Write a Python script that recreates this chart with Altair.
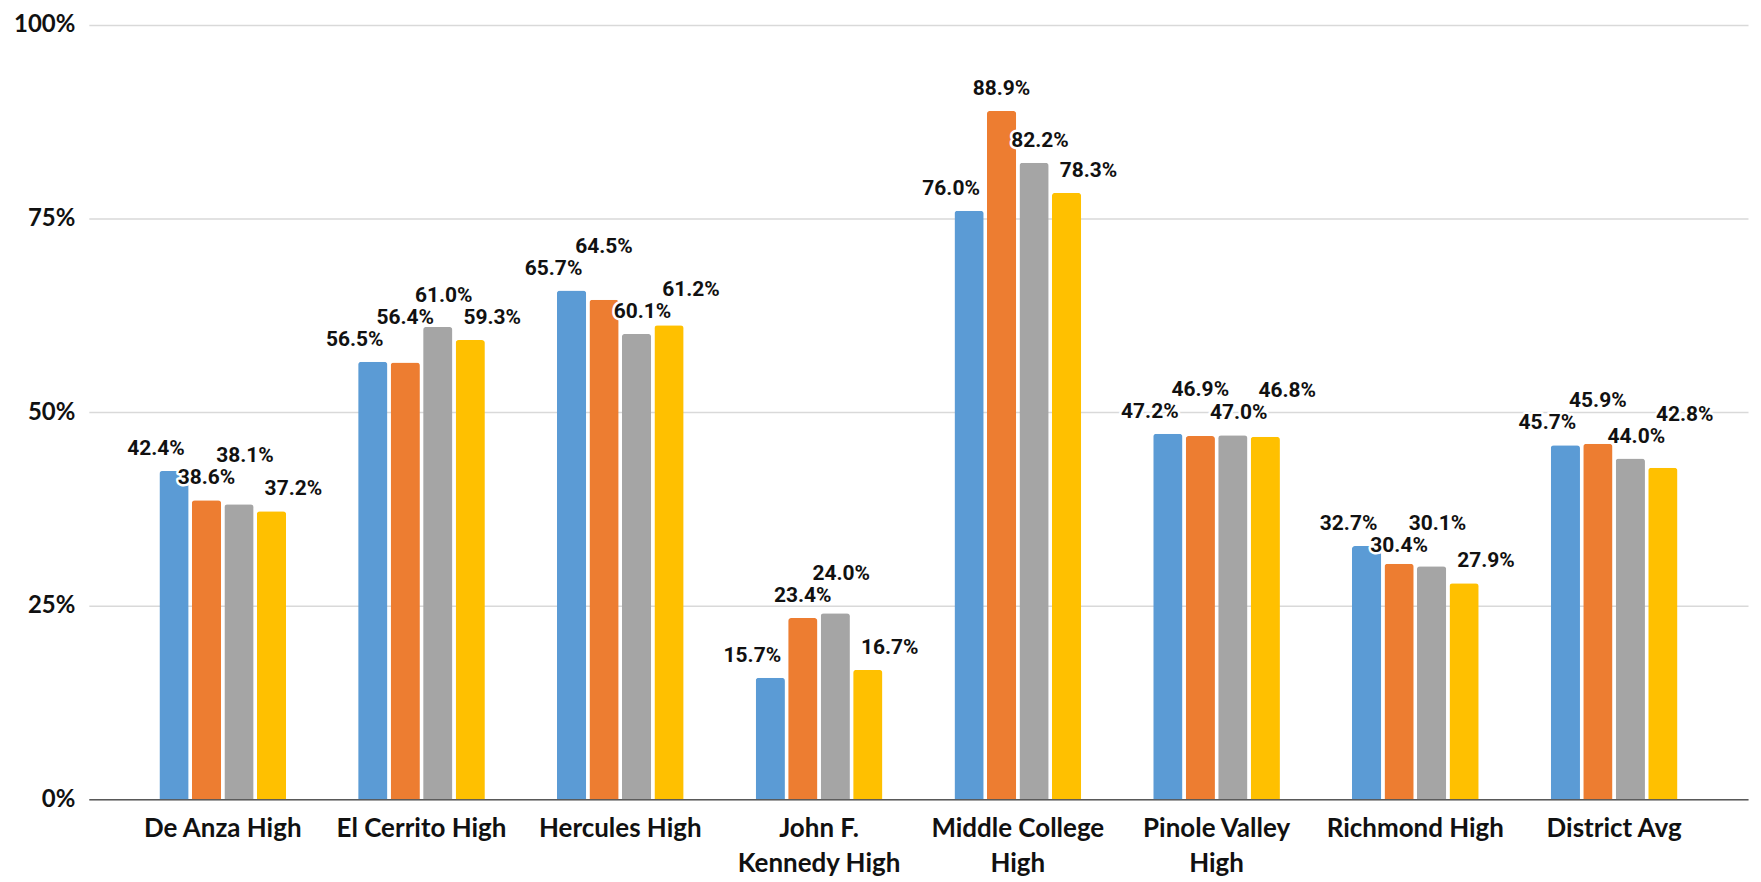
import altair as alt
import pandas as pd

# ---- data ----
categories = [
    "De Anza High",
    "El Cerrito High",
    "Hercules High",
    "John F.\nKennedy High",
    "Middle College\nHigh",
    "Pinole Valley\nHigh",
    "Richmond High",
    "District Avg",
]
series = ["Series 1", "Series 2", "Series 3", "Series 4"]
s1 = [42.4, 56.5, 65.7, 15.7, 76.0, 47.2, 32.7, 45.7]
s2 = [38.6, 56.4, 64.5, 23.4, 88.9, 46.9, 30.4, 45.9]
s3 = [38.1, 61.0, 60.1, 24.0, 82.2, 47.0, 30.1, 44.0]
s4 = [37.2, 59.3, 61.2, 16.7, 78.3, 46.8, 27.9, 42.8]
colors = ["#5B9BD5", "#ED7D31", "#A5A5A5", "#FFC000"]
y_ticks = [0, 25, 50, 75, 100]

# ---- layout ----
PLOT_W, PLOT_H = 1663, 776
PAD_INNER, PAD_OUTER = 0.3625, 0.355
OFF_PAD = 0.1
LABEL_DX = [-18, 0, 6, 22]
LBL_W, LBL_H = 62, 22
LBL_FONT = 21
PX = PLOT_H / 100.0

step = PLOT_W / (len(categories) - PAD_INNER + 2 * PAD_OUTER)
group_w = step * (1 - PAD_INNER)
off_step = group_w / (len(series) - OFF_PAD)
bar_w = off_step * (1 - OFF_PAD)
bar_rel = [-group_w / 2 + k * off_step + bar_w / 2 for k in range(len(series))]

values = [s1, s2, s3, s4]
rows = []
for g, cat in enumerate(categories):
    placed = []
    for i, name in enumerate(series):
        v = values[i][g]
        top = v * PX
        want = top + 22
        minimum = top + 11
        x = bar_rel[i] + LABEL_DX[i]
        cands = [want]
        for (px_, py_) in placed:
            cands += [py_ + LBL_H, py_ - LBL_H]
        valid = []
        for c in cands:
            if c < minimum:
                continue
            ok = all(abs(x - px_) >= LBL_W or abs(c - py_) >= LBL_H for (px_, py_) in placed)
            if ok:
                valid.append(c)
        ypos = min(valid, key=lambda c: abs(c - want)) if valid else want
        placed.append((x, ypos))
        rows.append({
            "school": cat,
            "series": name,
            "value": v,
            "label_y": ypos / PX,
            "label": f"{v:.1f}%",
        })

df = pd.DataFrame(rows)

x_enc = alt.X(
    "school:N",
    sort=categories,
    scale=alt.Scale(paddingInner=PAD_INNER, paddingOuter=PAD_OUTER),
    axis=alt.Axis(
        title=None,
        labelAngle=0,
        ticks=False,
        domainColor="#595959",
        domainWidth=1.5,
        labelFont="Lato",
        labelFontWeight="bold",
        labelFontSize=26,
        labelColor="#111111",
        labelPadding=16,
        labelLineHeight=35,
        labelExpr="split(datum.label, '\\n')",
        grid=False,
    ),
)
xoff_enc = alt.XOffset(
    "series:N",
    sort=series,
    scale=alt.Scale(domain=series, paddingInner=OFF_PAD, paddingOuter=0),
)
y_scale = alt.Scale(domain=[0, 100], nice=False)

bars = alt.Chart(df).mark_bar(
    cornerRadiusTopLeft=3, cornerRadiusTopRight=3
).encode(
    x=x_enc,
    xOffset=xoff_enc,
    y=alt.Y(
        "value:Q",
        scale=y_scale,
        axis=alt.Axis(
            title=None,
            values=y_ticks,
            labelExpr="datum.value + '%'",
            domain=False,
            ticks=False,
            grid=True,
            gridColor="#D9D9D9",
            gridWidth=1.5,
            labelFont="Lato",
            labelFontWeight="bold",
            labelFontSize=24,
            labelColor="#111111",
            labelPadding=14,
        ),
    ),
    color=alt.Color(
        "series:N",
        sort=series,
        scale=alt.Scale(domain=series, range=colors),
        legend=None,
    ),
)

layers = [bars]
for i, name in enumerate(series):
    base = alt.Chart(df).transform_filter(alt.datum.series == name)
    enc = dict(
        x=x_enc,
        xOffset=xoff_enc,
        y=alt.Y("label_y:Q", scale=y_scale),
        text="label:N",
    )
    halo = base.mark_text(
        font="Roboto", fontWeight="bold", fontSize=LBL_FONT, baseline="middle",
        align="center", dx=LABEL_DX[i], stroke="white", strokeWidth=5,
        strokeJoin="round", fill="white",
    ).encode(**enc)
    txt = base.mark_text(
        font="Roboto", fontWeight="bold", fontSize=LBL_FONT, baseline="middle",
        align="center", dx=LABEL_DX[i], color="#111111",
    ).encode(**enc)
    layers += [halo, txt]

chart = alt.layer(*layers).properties(
    width=PLOT_W,
    height=PLOT_H,
    autosize=alt.AutoSizeParams(type="none"),
    padding={"left": 81, "top": 16, "right": 5, "bottom": 80},
    background="white",
).configure_view(stroke=None)

chart.save("out.html", embed_options={"renderer": "svg", "actions": False})
